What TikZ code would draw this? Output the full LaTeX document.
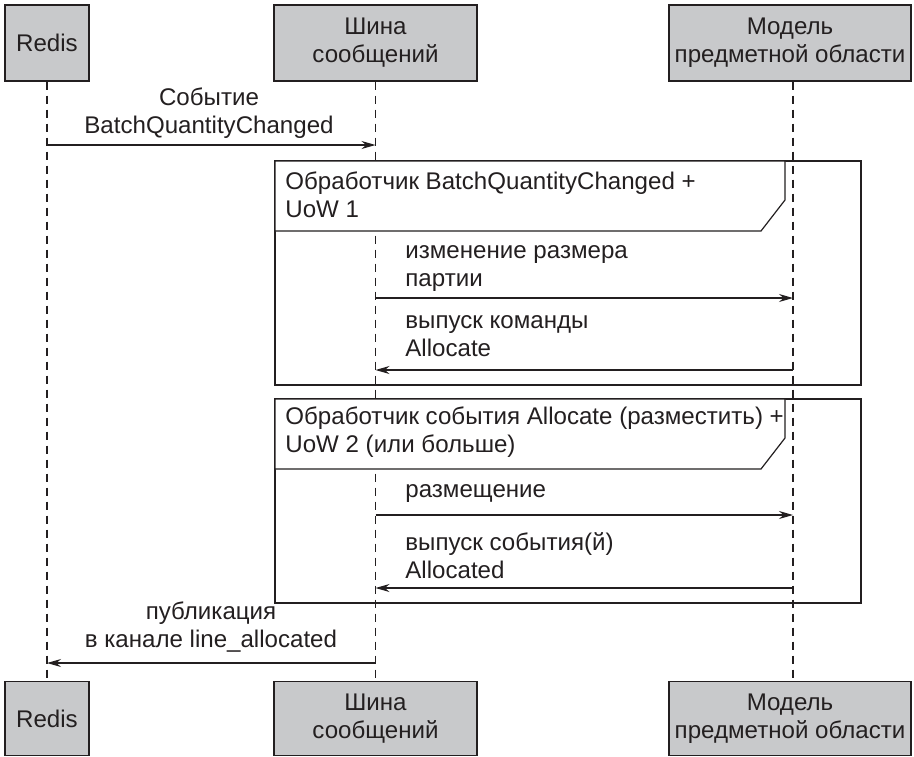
\documentclass[tikz,border=0pt]{standalone}
\usepackage{fontspec}
\setmainfont{Liberation Sans}
\usetikzlibrary{arrows.meta}
\definecolor{boxgray}{RGB}{200,201,203}
\definecolor{ink}{RGB}{35,31,32}
\begin{document}
\begin{tikzpicture}[x=0.5pt,y=-0.5pt,
  every node/.style={font=\fontsize{12.05}{14}\selectfont, text=ink},
  actor/.style={draw=ink, line width=0.6pt, fill=boxgray, inner sep=0pt, align=center},
  life/.style={draw=ink, line width=0.6pt, dash pattern=on 4pt off 3pt},
  msg/.style={draw=ink, line width=0.6pt, -{Stealth[length=7pt,width=4pt]}},
  frm/.style={draw=ink, line width=0.6pt},
  lbl/.style={align=left, inner sep=0pt, anchor=west},
  clbl/.style={align=center, inner sep=0pt}]
\useasboundingbox (0,0) rectangle (914,756);
% participants
\node[actor, minimum width=42pt, minimum height=38pt] (redisT) at (47,43) {Redis};
\node[actor, minimum width=101.5pt, minimum height=38pt] (busT) at (375.5,43) {Шина\\сообщений};
\node[actor, minimum width=121pt, minimum height=38pt] (modelT) at (790,43) {Модель\\предметной области};
\node[actor, minimum width=42pt, minimum height=37pt] (redisB) at (47,718.5) {Redis};
\node[actor, minimum width=101.5pt, minimum height=37pt] (busB) at (375.5,718.5) {Шина\\сообщений};
\node[actor, minimum width=121pt, minimum height=37pt] (modelB) at (790,718.5) {Модель\\предметной области};
% lifeline anchors
\coordinate (rT) at (redisT.south);
\coordinate (rB) at (redisB.north);
\coordinate (bT) at (busT.south);
\coordinate (bB) at (busB.north);
\coordinate (mT) at ([xshift=1.5pt]modelT.south);
\coordinate (mB) at ([xshift=1.5pt]modelB.north);
% lifelines
\draw[life] (rT) -- (rB);
\draw[life] (bT) -- (bB);
\draw[life] (mT) -- (mB);
% frame 1
\draw[frm] (275,161) rectangle (861,385);
\draw[frm, fill=white] (275,161) -- (785,161) -- (785,200) -- (761,231) -- (275,231) -- cycle;
\node[lbl] (f1t) at (285,195) {Обработчик BatchQuantityChanged +\\UoW 1};
% frame 2
\draw[frm] (275,399) rectangle (861,603);
\draw[frm, fill=white] (275,399) -- (785,399) -- (785,438) -- (761,469) -- (275,469) -- cycle;
\node[lbl] (f2t) at (285,432) {Обработчик события Allocate (разместить) +\\UoW 2 (или больше)};
% messages
\node[clbl] (m1t) at (209,113) {Событие\\BatchQuantityChanged};
\draw[msg] (rT |- 0,145) -- (bT |- 0,145);
\node[lbl] (m2t) at (405,269) {изменение размера\\партии};
\draw[msg] (bT |- 0,298) -- (mT |- 0,298);
\node[lbl] (m3t) at (405,336) {выпуск команды\\Allocate};
\draw[msg] (mT |- 0,370) -- (bT |- 0,370);
\node[lbl] (m4t) at (405,494) {размещение};
\draw[msg] (bT |- 0,515) -- (mT |- 0,515);
\node[lbl] (m5t) at (405,556) {выпуск события(й)\\Allocated};
\draw[msg] (mT |- 0,588) -- (bT |- 0,588);
\node[clbl] (m6t) at (211,627) {публикация\\в канале line\_allocated};
\draw[msg] (bT |- 0,663) -- (rT |- 0,663);
\end{tikzpicture}
\end{document}
